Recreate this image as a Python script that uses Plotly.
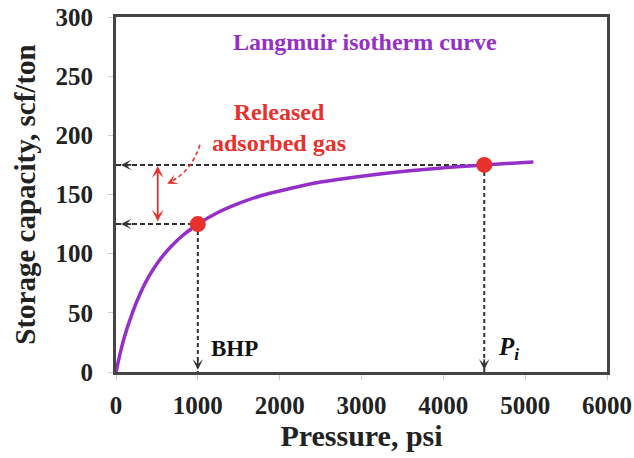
import plotly.graph_objects as go

# Langmuir isotherm
pressure = [0, 50, 100, 200, 300, 400, 500, 600, 700, 800, 900, 1000, 1250, 1500,
            1750, 2000, 2250, 2500, 3000, 3500, 4000, 4500, 5100]
capacity = [0, 15.5, 29, 50, 67, 80.5, 91.5, 100.5, 108, 114.5, 120, 125, 135, 142.5,
            148.5, 153, 157, 160.5, 165.5, 169.5, 172.5, 175, 177.5]

# highlighted states: BHP and initial pressure
state_pressure = [1000, 4500]
state_capacity = [125, 175]
state_labels = ["BHP", "P<sub>i</sub>"]

x_ticks = [0, 1000, 2000, 3000, 4000, 5000, 6000]
y_ticks = [0, 50, 100, 150, 200, 250, 300]

SERIF = "Liberation Serif"
PURPLE = "#9430C8"
RED = "#E8302C"
DASH = "#333333"

fig = go.Figure()

# dashed guide lines (horizontal to the y axis, vertical to the x axis)
for p, c in zip(state_pressure, state_capacity):
    fig.add_trace(go.Scatter(x=[0, p], y=[c, c], mode="lines",
                             line=dict(color=DASH, width=2, dash="5px,3px"),
                             hoverinfo="skip", showlegend=False))
    fig.add_trace(go.Scatter(x=[p, p], y=[c, 0], mode="lines",
                             line=dict(color=DASH, width=2, dash="4px,3px"),
                             hoverinfo="skip", showlegend=False))

fig.add_trace(go.Scatter(x=pressure, y=capacity, mode="lines",
                         line=dict(color=PURPLE, width=3.5, shape="spline", smoothing=1),
                         showlegend=False))

fig.add_trace(go.Scatter(x=state_pressure, y=state_capacity, mode="markers",
                         marker=dict(color=RED, size=16), showlegend=False))

annotations = []
# arrowheads at the ends of dashed guides
for p, c in zip(state_pressure, state_capacity):
    annotations.append(dict(x=60, y=c, xref="x", yref="y", ax=12, ay=0, text="",
                            showarrow=True, arrowhead=3, arrowsize=1.1,
                            arrowwidth=1.6, arrowcolor=DASH))
    annotations.append(dict(x=p, y=2, xref="x", yref="y", ax=0, ay=-12, text="",
                            showarrow=True, arrowhead=3, arrowsize=1.1,
                            arrowwidth=1.6, arrowcolor=DASH))

# red double-headed arrow (released gas)
annotations.append(dict(x=510, y=174, xref="x", yref="y", ax=510, ay=126,
                        axref="x", ayref="y", text="", showarrow=True,
                        arrowhead=3, startarrowhead=3, arrowside="end+start",
                        arrowsize=1.1, startarrowsize=1.1, arrowwidth=1.8,
                        arrowcolor=RED))
# head of curved dashed arrow
annotations.append(dict(x=625, y=159, xref="x", yref="y", ax=700, ay=161.5,
                        axref="x", ayref="y", text="", showarrow=True,
                        arrowhead=3, arrowsize=1.1, arrowwidth=1.6,
                        arrowcolor=RED))

annotations += [
    dict(x=3043, y=279, xref="x", yref="y", text="<b>Langmuir isotherm curve</b>",
         showarrow=False, font=dict(family=SERIF, size=24, color=PURPLE)),
    dict(x=1990, y=207, xref="x", yref="y", text="<b>Released<br>adsorbed gas</b>",
         showarrow=False, align="center",
         font=dict(family=SERIF, size=24, color=RED)),
    dict(x=1140, y=20, xref="x", yref="y", text="<b>" + state_labels[0] + "</b>",
         showarrow=False, xanchor="left",
         font=dict(family=SERIF, size=23, color="#111")),
    dict(x=4640, y=20, xref="x", yref="y", text="<b><i>" + state_labels[1] + "</i></b>",
         showarrow=False, xanchor="left",
         font=dict(family=SERIF, size=25, color="#111")),
]

shapes = [
    dict(type="path", xref="x", yref="y",
         path="M 1026,192 Q 929,171 690,161.5",
         line=dict(color=RED, width=1.6, dash="4px,3px")),
]

axis_common = dict(showgrid=False, zeroline=False, showline=True, mirror=True,
                   linecolor="#444", linewidth=3, ticks="outside", ticklen=5,
                   tickcolor="#cccccc", tickwidth=1, automargin=False,
                   ticklabeloverflow="allow",
                   tickfont=dict(family=SERIF, size=25, color="#222", weight="bold"))

fig.update_layout(
    width=634, height=458,
    margin=dict(l=116, r=27, t=17, b=86),
    plot_bgcolor="white", paper_bgcolor="white",
    xaxis=dict(range=[0, 6000], tickvals=x_ticks, ticktext=[str(v) for v in x_ticks],
               ticklabelstandoff=4,
               title=dict(text="<b>Pressure, psi</b>", standoff=6,
                          font=dict(family=SERIF, size=30, color="#222")),
               **axis_common),
    yaxis=dict(range=[0, 300], tickvals=y_ticks, ticktext=[str(v) for v in y_ticks],
               ticklabelstandoff=10,
               title=dict(text="<b>Storage capacity, scf/ton</b>", standoff=12,
                          font=dict(family=SERIF, size=29, color="#222")),
               **axis_common),
    annotations=annotations,
    shapes=shapes,
)

# remove the default page margin so the 634x458 figure fills the window exactly
fig.write_html("out.html",
               config={"displayModeBar": False},
               post_script="document.body.style.margin='0';"
                           "document.body.style.overflow='hidden';")
